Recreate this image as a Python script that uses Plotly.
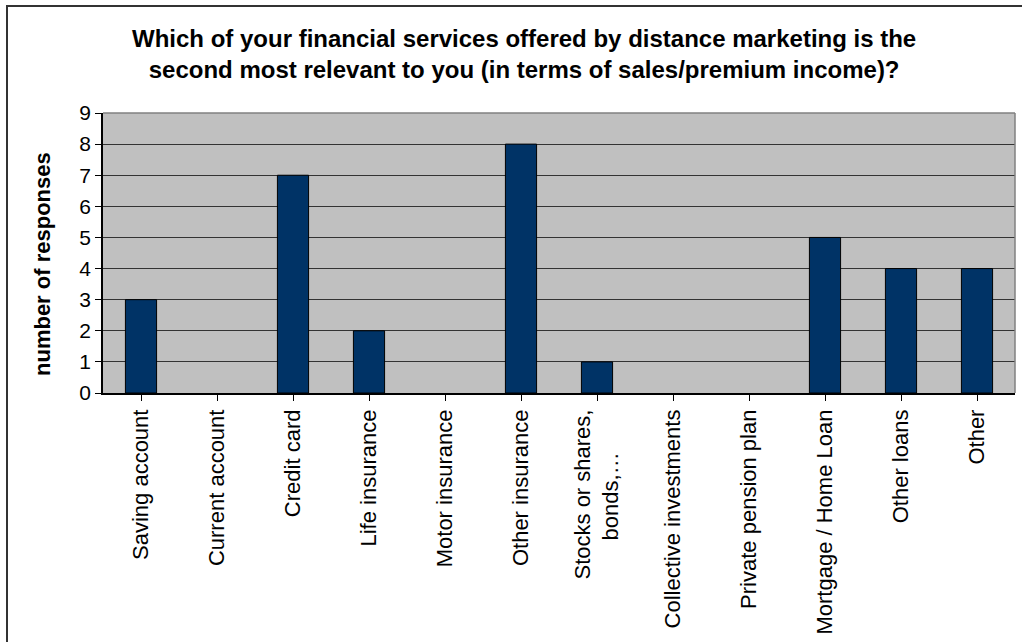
import plotly.graph_objects as go

# Survey answers: second most relevant distance-marketed financial service
categories = [
    "Saving account", "Current account", "Credit card", "Life insurance",
    "Motor insurance", "Other insurance",
    "Stocks or shares,<br>bonds,…" + "\u00a0" * 7,
    "Collective investments", "Private pension plan", "Mortgage / Home Loan",
    "Other loans", "Other",
]
responses = [3, 0, 7, 2, 0, 8, 1, 0, 0, 5, 4, 4]
y_ticks = [0, 1, 2, 3, 4, 5, 6, 7, 8, 9]

W, H = 1022, 642
L, R, T, B = 103, 7, 113, 249
pw, ph = W - L - R, H - T - B

def px_x(p):
    return (p - L) / pw

def px_y(p):
    return (H - B - p) / ph

fig = go.Figure(
    go.Bar(
        x=list(range(len(categories))),
        y=responses,
        marker=dict(
            color="#003366",
            # no outline for empty categories
            line=dict(color="#000000", width=[1 if v > 0 else 0 for v in responses]),
        ),
        hoverinfo="skip",
    )
)

font = "Arial, Liberation Sans, sans-serif"

fig.update_layout(
    width=W, height=H,
    margin=dict(l=L, r=R, t=T, b=B, pad=0),
    paper_bgcolor="white",
    plot_bgcolor="#C0C0C0",
    bargap=0.59,
    showlegend=False,
    font=dict(family=font, color="black"),
    annotations=[
        dict(
            text="<b>Which of your financial services offered by distance marketing is the<br>"
                 "second most relevant to you (in terms of sales/premium income)?</b>",
            xref="paper", yref="paper",
            x=px_x(524), xanchor="center",
            y=px_y(54), yanchor="middle",
            showarrow=False, align="center",
            font=dict(family=font, size=24, color="black"),
        ),
        dict(
            text="<b>number of responses</b>",
            xref="paper", yref="paper",
            x=px_x(42), xanchor="center",
            y=px_y(264), yanchor="middle",
            textangle=-90, showarrow=False,
            font=dict(family=font, size=22, color="black"),
        ),
    ],
    xaxis=dict(
        tickmode="array",
        tickvals=list(range(len(categories))),
        ticktext=categories,
        tickangle=-90,
        tickson="boundaries",
        ticks="outside", ticklen=6, tickcolor="black", tickwidth=1,
        showline=True, linecolor="black", linewidth=1.5,
        showgrid=False,
        range=[-0.5, len(categories) - 0.5],
        tickfont=dict(family=font, size=22, color="black"),
    ),
    yaxis=dict(
        range=[0, 9],
        tickmode="array", tickvals=y_ticks,
        ticks="outside", ticklen=6, tickcolor="black", tickwidth=1,
        showline=True, linecolor="black", linewidth=1.5,
        showgrid=True, gridcolor="#333333", gridwidth=1,
        zeroline=False,
        tickfont=dict(family=font, size=21, color="black"),
    ),
    shapes=[
        # lighter border on top and right of the plotting area
        dict(type="line", xref="paper", yref="paper", x0=0, x1=1, y0=1, y1=1,
             line=dict(color="#808080", width=1.5), layer="above"),
        dict(type="line", xref="paper", yref="paper", x0=1, x1=1, y0=0, y1=1,
             line=dict(color="#808080", width=1.5), layer="above"),
        # outer chart frame
        dict(type="rect", xref="paper", yref="paper",
             x0=px_x(7), x1=px_x(1060), y0=px_y(680), y1=px_y(6),
             line=dict(color="#333333", width=2), fillcolor="rgba(0,0,0,0)",
             layer="below"),
    ],
)

fig.write_html("out.html")
